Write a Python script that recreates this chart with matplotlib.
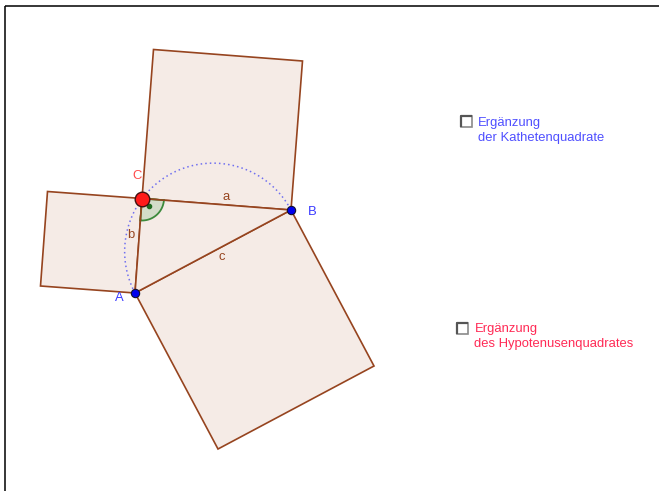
import numpy as np
import matplotlib
matplotlib.use("Agg")
import matplotlib.pyplot as plt
from matplotlib.patches import Polygon, Rectangle

plt.rcParams['font.family'] = ['Liberation Sans', 'DejaVu Sans']

# Triangle vertices (pixel-like coordinates, y downward)
point_names = ["A", "B", "C"]
point_x = [135.0, 291.0, 142.0]
point_y = [293.0, 210.0, 198.5]
side_names = ["a", "b", "c"]

# checkbox texts
cb1_lines = ["Ergänzung", "der Kathetenquadrate"]
cb2_lines = ["Ergänzung", "des Hypotenusenquadrates"]

W, H = 659, 491
fig = plt.figure(figsize=(W / 100, H / 100), dpi=100)
ax = fig.add_axes([0, 0, 1, 1])
ax.set_xlim(0, W)
ax.set_ylim(H, 0)
ax.axis("off")

A = np.array([point_x[0], point_y[0]])
B = np.array([point_x[1], point_y[1]])
C = np.array([point_x[2], point_y[2]])

edge = "#96441f"
fill = "#f5ebe6"

def outward_square(P, Q, opp):
    v = Q - P
    n = np.array([v[1], -v[0]])
    mid = (P + Q) / 2
    if np.dot(n, opp - mid) > 0:
        n = -n
    return np.array([P, Q, Q + n, P + n])

for P, Q, O in [(C, B, A), (C, A, B), (A, B, C)]:
    sq = outward_square(P, Q, O)
    ax.add_patch(Polygon(sq, closed=True, facecolor=fill, edgecolor=edge, lw=1.2, zorder=2))

ax.add_patch(Polygon([A, B, C], closed=True, facecolor=fill, edgecolor=edge, lw=1.2, zorder=3))

# Thales arc over AB on C's side
M = (A + B) / 2
r = np.linalg.norm(B - A) / 2
a0 = np.arctan2(A[1] - M[1], A[0] - M[0])
a1 = np.arctan2(B[1] - M[1], B[0] - M[0])
ac = np.arctan2(C[1] - M[1], C[0] - M[0])
def norm(t):
    return (t + 2 * np.pi) % (2 * np.pi)
d = norm(a1 - a0)
if norm(ac - a0) > d:
    d = d - 2 * np.pi
t = np.linspace(a0, a0 + d, 200)
ax.plot(M[0] + r * np.cos(t), M[1] + r * np.sin(t), color="#7070f0", lw=1.1,
        ls=(0, (1, 2.0)), zorder=4)

# right-angle marker at C
ra = 22
tb = np.arctan2(B[1] - C[1], B[0] - C[0])
tA = np.arctan2(A[1] - C[1], A[0] - C[0])
ts = np.linspace(tb, tA, 40)
wedge = np.vstack([C, np.column_stack([C[0] + ra * np.cos(ts), C[1] + ra * np.sin(ts)]), C])
ax.add_patch(Polygon(wedge, closed=True, facecolor="#d3dcc9", edgecolor="#3c8a3c", lw=1.3, zorder=5))
ax.plot([C[0], C[0] + ra * np.cos(tb)], [C[1], C[1] + ra * np.sin(tb)], color=edge, lw=1.2, zorder=6)
ax.plot([C[0], C[0] + ra * np.cos(tA)], [C[1], C[1] + ra * np.sin(tA)], color=edge, lw=1.2, zorder=6)
tm = (tb + tA) / 2
ax.plot(C[0] + 10 * np.cos(tm), C[1] + 10 * np.sin(tm), "o", color="#1f6b1f", ms=3, zorder=7)

# points
ax.plot(A[0], A[1], "o", ms=6, mfc="#0000ee", mec="#101030", mew=0.8, zorder=8)
ax.plot(B[0], B[1], "o", ms=6, mfc="#0000ee", mec="#101030", mew=0.8, zorder=8)
ax.plot(C[0], C[1], "o", ms=10.5, mfc="#ff1a1a", mec="#401010", mew=1.0, zorder=8)

fs = 9.4
ax.text(137, 176, point_names[2], color="#ff4a4a", fontsize=fs, ha="center", va="center", zorder=9)
ax.text(119, 298, point_names[0], color="#3a3aff", fontsize=fs, ha="center", va="center", zorder=9)
ax.text(312, 212, point_names[1], color="#3a3aff", fontsize=fs, ha="center", va="center", zorder=9)
ax.text(226, 197, side_names[0], color=edge, fontsize=fs, ha="center", va="center", zorder=9)
ax.text(131, 235, side_names[1], color=edge, fontsize=fs, ha="center", va="center", zorder=9)
ax.text(222, 257, side_names[2], color=edge, fontsize=fs, ha="center", va="center", zorder=9)

# checkboxes
def checkbox(x, y, lines, color):
    ax.add_patch(Rectangle((x, y), 11, 11, facecolor="white", edgecolor="#8a8a8a", lw=1.2, zorder=9))
    ax.plot([x, x, x + 11], [y + 11, y, y], color="#555555", lw=1.6, zorder=10,
            solid_capstyle="butt")
    ax.text(x + 17.5, y + 6.5, lines[0], color=color, fontsize=fs, ha="left", va="center", zorder=9)
    ax.text(x + 17.5, y + 22, lines[1], color=color, fontsize=fs, ha="left", va="center", zorder=9)

checkbox(460.5, 116, cb1_lines, "#4f4fff")
checkbox(457, 322.5, cb2_lines, "#ff2a55")

# frame
ax.plot([4.5, W], [5.5, 5.5], color="black", lw=1.1, zorder=10, solid_capstyle="butt")
ax.plot([4.5, 4.5], [5.5, H], color="black", lw=1.1, zorder=10, solid_capstyle="butt")

fig.savefig("out.png", dpi=100)
